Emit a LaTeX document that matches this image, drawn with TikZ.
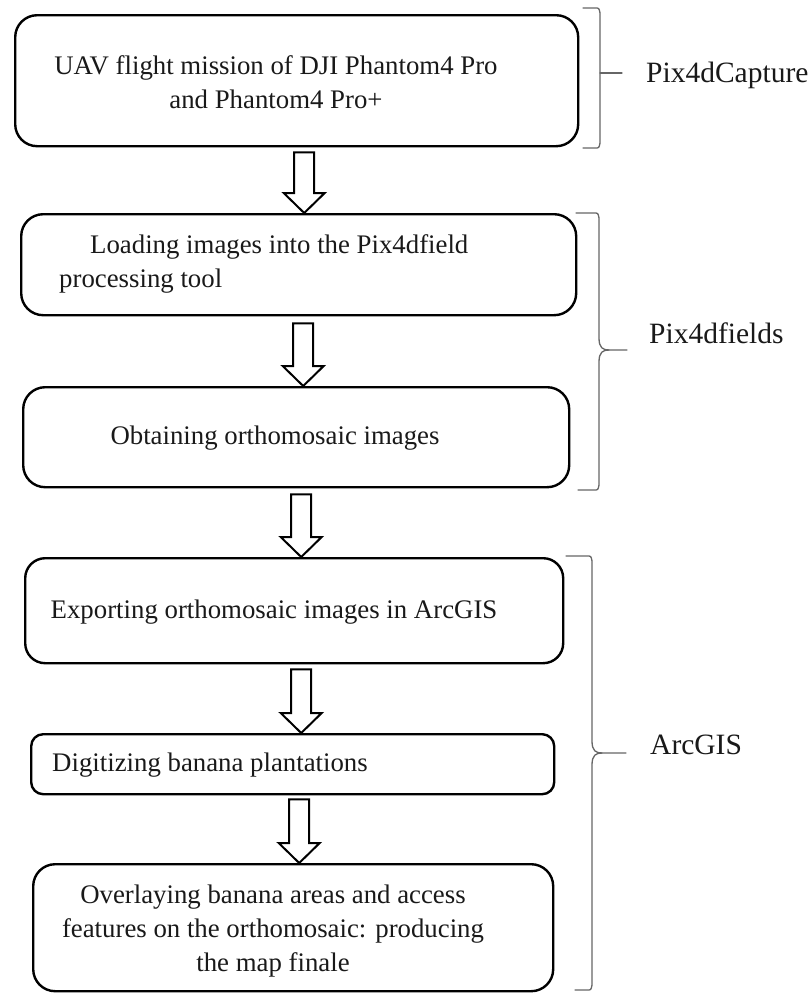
\documentclass[tikz,border=0pt]{standalone}
\usepackage{fontspec}
\setmainfont{Liberation Serif}
\usetikzlibrary{calc}
\begin{document}
\begin{tikzpicture}[x=1pt,y=-1pt,
  box/.style={draw=black, line width=2.4pt, rounded corners=22pt, anchor=north west, inner sep=0pt},
  boxtext/.style={inner sep=0pt, text=black!90, font=\fontsize{26.8pt}{34pt}\selectfont},
  grouplabel/.style={inner sep=0pt, anchor=west, text=black!90, font=\fontsize{29.5pt}{34pt}\selectfont},
  bracestroke/.style={draw=black!60, line width=1.3pt, line cap=round},
  blockarrow/.style={draw=black, line width=2pt, line join=miter, to path={
    let \p1=(\tikztostart), \p2=(\tikztotarget) in
    (\x1-10pt,\y1) -- (\x1+10pt,\y1) -- (\x1+10pt,\y2+20pt) -- (\x1+20.5pt,\y2+20pt)
    -- (\x1,\y2) -- (\x1-20.5pt,\y2+20pt) -- (\x1-10pt,\y2+20pt) -- cycle}}
]
\useasboundingbox (0,0) rectangle (810,993);

% boxes
\node[box, minimum width=563pt, minimum height=131pt] (b1) at (14,14) {};
\node[box, minimum width=555pt, minimum height=101pt] (b2) at (20,213) {};
\node[box, minimum width=546pt, minimum height=100pt] (b3) at (22,386) {};
\node[box, minimum width=538pt, minimum height=105pt, rounded corners=20pt] (b4) at (24,557) {};
\node[box, minimum width=523pt, minimum height=60pt, rounded corners=12pt] (b5) at (30,733) {};
\node[box, minimum width=520pt, minimum height=127pt] (b6) at (32,863) {};

% texts
\node[boxtext, align=center] (t1) at (276,82) {UAV flight mission of DJI Phantom4 Pro\\and Phantom4 Pro+};
\node[boxtext, align=left, anchor=west] (t2) at (59,264) {\hspace*{31pt}Loading images into the Pix4dfield\\processing tool};
\node[boxtext] (t3) at (275,438) {Obtaining orthomosaic images};
\node[boxtext] (t4) at (274,612) {Exporting orthomosaic images in ArcGIS};
\node[boxtext, anchor=west] (t5) at (52,765) {Digitizing banana plantations};
\node[boxtext, align=center] (t6) at (273,931) {Overlaying banana areas and access\\features on the orthomosaic: producing\\the map finale};

% block arrows
\draw[blockarrow] ([xshift=7.5pt,yshift=-5pt]b1.south) to ([xshift=5.5pt]b2.north);
\draw[blockarrow] ([xshift=4.5pt,yshift=-7pt]b2.south) to ([xshift=7pt]b3.north);
\draw[blockarrow] ([xshift=5pt,yshift=-6pt]b3.south) to ([xshift=7pt]b4.north);
\draw[blockarrow] ([xshift=7pt,yshift=-5pt]b4.south) to ([xshift=8.5pt]b5.north);
\draw[blockarrow] ([xshift=6.5pt,yshift=-4pt]b5.south) to ([xshift=5.5pt]b6.north);

% group labels
\node[grouplabel] (g1) at (646,75) {Pix4dCapture};
\node[grouplabel] (g2) at (649,333) {Pix4dfields};
\node[grouplabel] (g3) at (650,745) {ArcGIS};

% braces
\draw[bracestroke] (583,8) -- (595,8) .. controls (599,8) .. (600,13) -- (600,143)
  .. controls (599,148) .. (595,148) -- (583,148);
\draw[bracestroke] (600,73) -- (622,73);

\draw[bracestroke] (576,213) -- (594,213) .. controls (598,213) .. (599,218) -- (599,338)
  .. controls (599,348) and (603,350) .. (609,350) -- (627,350);
\draw[bracestroke] (609,350) .. controls (603,350) and (599,352) .. (599,362) -- (599,485)
  .. controls (598,490) .. (594,490) -- (578,490);

\draw[bracestroke] (566,556) -- (587,556) .. controls (591,556) .. (592,561) -- (592,741)
  .. controls (592,751) and (596,753) .. (602,753) -- (626,753);
\draw[bracestroke] (602,753) .. controls (596,753) and (592,755) .. (592,765) -- (592,985)
  .. controls (591,990) .. (587,990) -- (575,990);
\end{tikzpicture}
\end{document}
